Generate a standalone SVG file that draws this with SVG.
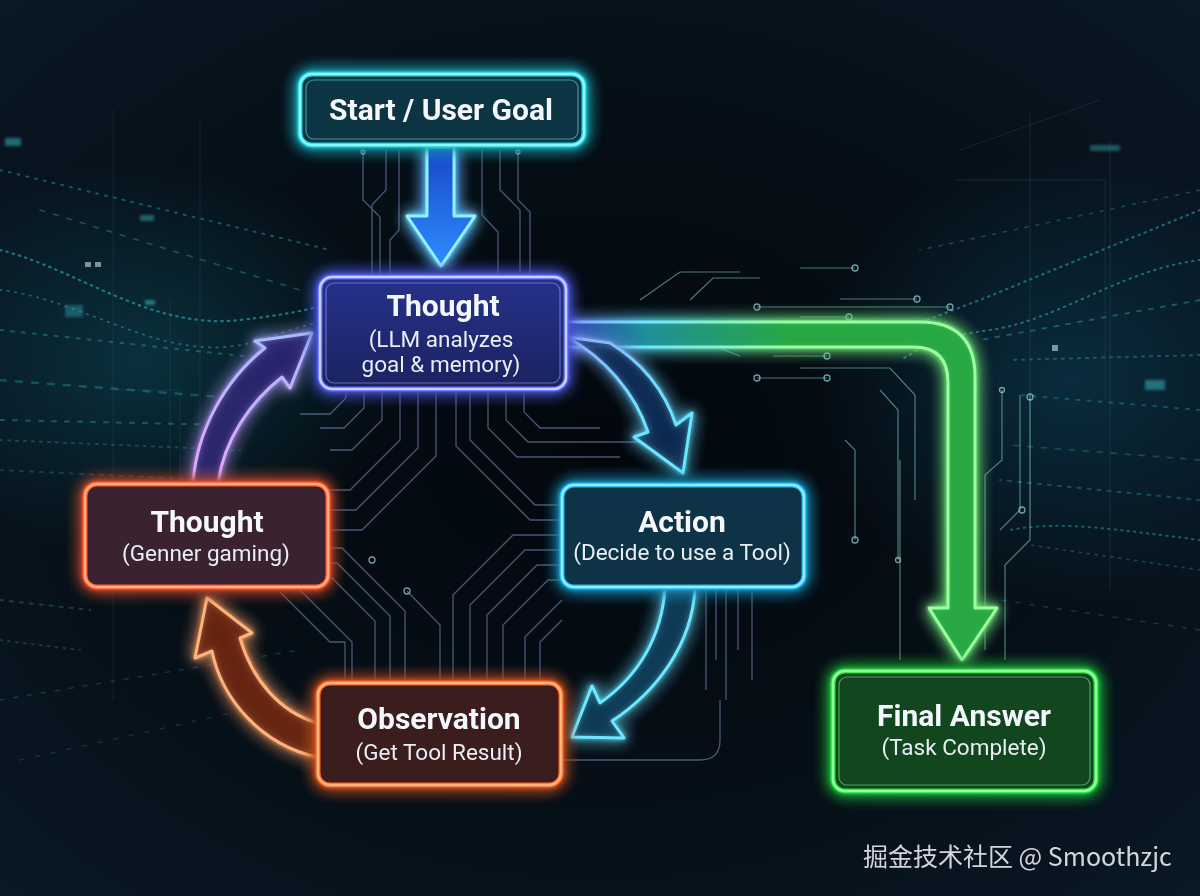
<svg xmlns="http://www.w3.org/2000/svg" width="1200" height="896" viewBox="0 0 1200 896">
<defs>
  <radialGradient id="bgGrad" cx="50%" cy="50%" r="75%">
    <stop offset="0" stop-color="#03070d"/>
    <stop offset="0.6" stop-color="#061019"/>
    <stop offset="1" stop-color="#0a1a28"/>
  </radialGradient>
  <radialGradient id="hazeL" cx="0.5" cy="0.5" r="0.5">
    <stop offset="0" stop-color="#0f5a6a" stop-opacity="0.45"/>
    <stop offset="1" stop-color="#0f5a6a" stop-opacity="0"/>
  </radialGradient>
  <radialGradient id="hazeR" cx="0.5" cy="0.5" r="0.5">
    <stop offset="0" stop-color="#0f4f6a" stop-opacity="0.45"/>
    <stop offset="1" stop-color="#0f4f6a" stop-opacity="0"/>
  </radialGradient>
  <linearGradient id="downFill" x1="0" y1="147" x2="0" y2="266" gradientUnits="userSpaceOnUse">
    <stop offset="0" stop-color="#1846c8"/>
    <stop offset="1" stop-color="#2f8cff"/>
  </linearGradient>
  <linearGradient id="greenStroke" x1="566" y1="0" x2="790" y2="0" gradientUnits="userSpaceOnUse">
    <stop offset="0" stop-color="#8a9cff"/>
    <stop offset="0.35" stop-color="#6fe6ff"/>
    <stop offset="1" stop-color="#9aff9c"/>
  </linearGradient>
  <linearGradient id="greenFill" x1="566" y1="0" x2="790" y2="0" gradientUnits="userSpaceOnUse">
    <stop offset="0" stop-color="#2a3fb0"/>
    <stop offset="0.35" stop-color="#1f8f9a"/>
    <stop offset="1" stop-color="#27a844"/>
  </linearGradient>
  <linearGradient id="aStroke" x1="567" y1="337" x2="683" y2="473" gradientUnits="userSpaceOnUse">
    <stop offset="0" stop-color="#8fa8ff"/>
    <stop offset="0.5" stop-color="#72dcff"/>
    <stop offset="1" stop-color="#66ecff"/>
  </linearGradient>
  <linearGradient id="dStroke" x1="0" y1="483" x2="0" y2="333" gradientUnits="userSpaceOnUse">
    <stop offset="0" stop-color="#e4a8ff"/>
    <stop offset="1" stop-color="#aab8ff"/>
  </linearGradient>
  <linearGradient id="thoughtFill" x1="0" y1="276" x2="0" y2="390" gradientUnits="userSpaceOnUse">
    <stop offset="0" stop-color="#26328a"/>
    <stop offset="1" stop-color="#1a2260"/>
  </linearGradient>
  <filter id="glow" x="-30%" y="-30%" width="160%" height="160%" color-interpolation-filters="sRGB">
    <feGaussianBlur in="SourceGraphic" stdDeviation="8" result="b1"/>
    <feGaussianBlur in="SourceGraphic" stdDeviation="2.5" result="b2"/>
    <feMerge><feMergeNode in="b1"/><feMergeNode in="b1"/><feMergeNode in="b2"/><feMergeNode in="SourceGraphic"/></feMerge>
  </filter>
  <filter id="soft" x="-30%" y="-30%" width="160%" height="160%">
    <feGaussianBlur stdDeviation="1.5"/>
  </filter>
  <style>
    .title{font-family:Roboto,"Liberation Sans",sans-serif;font-weight:700;font-size:30px;fill:#f4f7fb;text-anchor:middle}
    .sub{font-family:Roboto,"Liberation Sans",sans-serif;font-weight:400;font-size:22.5px;fill:#e8eef4;text-anchor:middle}
    .trace{fill:none;stroke:#8aa4d8;stroke-width:1.3;opacity:0.5}
    .traceG{fill:none;stroke:#8ad6c0;stroke-width:1.2;opacity:0.55}
    .dot{fill:none;stroke:#9fd8e0;stroke-width:1.3;opacity:0.7}
    .stream{fill:none;stroke:#35c2d0;stroke-linecap:round}
    .inner{fill:none;stroke-width:1.2;opacity:0.55}
  </style>
</defs>

<g id="background">
  <rect x="0" y="0" width="1200" height="896" fill="url(#bgGrad)"/>
  <ellipse cx="140" cy="360" rx="260" ry="200" fill="url(#hazeL)"/>
  <ellipse cx="1070" cy="380" rx="260" ry="230" fill="url(#hazeR)"/>
  <g opacity="0.75">
    <path class="stream" d="M0,170 L330,250" stroke-width="2" stroke-dasharray="2 7" opacity="0.5"/>
    <path class="stream" d="M40,210 L300,290" stroke-width="1.6" stroke-dasharray="5 9" opacity="0.45"/>
    <path class="stream" d="M0,250 C80,270 150,330 240,320 S320,300 360,305" stroke-width="2.2" stroke-dasharray="1.5 5" opacity="0.7"/>
    <path class="stream" d="M0,290 C90,300 170,370 260,340 S330,320 380,330" stroke-width="1.8" stroke-dasharray="1.5 6" opacity="0.55"/>
    <path class="stream" d="M0,330 L280,360" stroke-width="2" stroke-dasharray="3 8" opacity="0.45"/>
    <path class="stream" d="M0,380 L260,400" stroke-width="2.5" stroke-dasharray="6 10" opacity="0.4"/>
    <path class="stream" d="M0,420 L230,425" stroke-width="2" stroke-dasharray="4 9" opacity="0.45"/>
    <path class="stream" d="M0,440 L240,450" stroke-width="2" stroke-dasharray="2 6" opacity="0.35"/>
    <path class="stream" d="M0,470 L210,480" stroke-width="2" stroke-dasharray="3 7" opacity="0.3"/>
    <path class="stream" d="M0,600 L90,610" stroke-width="2" stroke-dasharray="3 7" opacity="0.35"/>
    <path class="stream" d="M0,640 L80,650" stroke-width="2" stroke-dasharray="2 6" opacity="0.3"/>
    <path class="stream" d="M0,700 L300,650" stroke-width="1.5" stroke-dasharray="4 10" opacity="0.3"/>
    <path class="stream" d="M20,760 L290,700" stroke-width="1.5" stroke-dasharray="4 12" opacity="0.25"/>
    <rect x="5" y="138" width="16" height="8" fill="#4fe0e8" opacity="0.55" filter="url(#soft)"/>
    <rect x="140" y="215" width="14" height="6" fill="#4fe0e8" opacity="0.5" filter="url(#soft)"/>
    <rect x="145" y="300" width="10" height="5" fill="#4fe0e8" opacity="0.6" filter="url(#soft)"/>
    <rect x="65" y="305" width="18" height="12" fill="#3ab8c8" opacity="0.5" filter="url(#soft)"/>
    <rect x="85" y="262" width="6" height="5" fill="#dff" opacity="0.7"/>
    <rect x="95" y="262" width="6" height="5" fill="#dff" opacity="0.7"/>
    <path d="M113,110 V700 M200,120 V620 M170,300 V560 M112,390 H180 V560" stroke="#5aa0b0" stroke-width="1" fill="none" opacity="0.18"/>
  </g>
  <g opacity="0.75">
    <path class="stream" d="M1200,190 L920,250" stroke-width="1.6" stroke-dasharray="3 8" opacity="0.4"/>
    <path class="stream" d="M1200,210 L980,300 L900,330" stroke-width="2.2" stroke-dasharray="1.5 5" opacity="0.6"/>
    <path class="stream" d="M1200,260 C1120,270 1060,320 990,330 S930,345 900,360" stroke-width="2" stroke-dasharray="1.5 5" opacity="0.65"/>
    <path class="stream" d="M1200,300 L980,340" stroke-width="1.8" stroke-dasharray="4 8" opacity="0.5"/>
    <path class="stream" d="M1200,355 L1010,360" stroke-width="2" stroke-dasharray="2 6" opacity="0.45"/>
    <path class="stream" d="M1200,410 L1020,395" stroke-width="2" stroke-dasharray="3 8" opacity="0.4"/>
    <path class="stream" d="M1200,460 L1010,445" stroke-width="1.8" stroke-dasharray="5 9" opacity="0.35"/>
    <path class="stream" d="M1200,500 L1000,480" stroke-width="2" stroke-dasharray="3 7" opacity="0.4"/>
    <path class="stream" d="M1200,540 C1120,530 1060,520 1010,530" stroke-width="2" stroke-dasharray="1.5 5" opacity="0.55"/>
    <path class="stream" d="M1200,570 L1030,545" stroke-width="1.6" stroke-dasharray="2 6" opacity="0.4"/>
    <path class="stream" d="M1200,630 L1000,600" stroke-width="1.6" stroke-dasharray="4 10" opacity="0.3"/>
    <rect x="1145" y="380" width="20" height="10" fill="#4fe0e8" opacity="0.55" filter="url(#soft)"/>
    <rect x="1090" y="145" width="30" height="6" fill="#4fe0e8" opacity="0.45" filter="url(#soft)"/>
    <rect x="1052" y="345" width="6" height="6" fill="#dff" opacity="0.7"/>
    <path d="M1030,110 V520 M1110,140 V590 M955,180 H1105 V400 M960,150 L1100,100" stroke="#5aa0b0" stroke-width="1" fill="none" opacity="0.2"/>
  </g>
</g>

<g id="circuits">
  <path class="trace" d="M363,150 V200 L380,217 V276 M386,150 V190 L372,205 V276 M399,150 V230 L390,240 V276"/>
  <path class="trace" d="M482,150 V215 L498,232 V276 M500,150 V190 L520,210 V276 M518,150 V200 L530,212 V276"/>
  <circle class="dot" cx="363" cy="152" r="2"/><circle class="dot" cx="518" cy="152" r="2"/>
  <path class="trace" d="M400,392 V440 L350,490 H328 M418,392 V448 L356,510 H328 M436,392 V456 L362,530 H328"/>
  <path class="trace" d="M382,392 V420 L352,450 H330 M364,392 V408 L344,428 H320 M346,392 V398 L330,414 H300"/>
  <path class="trace" d="M470,392 V440 L535,505 H562 M456,392 V446 L530,520 H562 M488,392 V428 L517,457 H620 M506,392 V420 L528,442 H640 M524,392 V412 L540,428 H600"/>
  <path class="trace" d="M328,548 H342 L405,611 V682 M328,563 H337 L390,616 V682 M328,578 H332 L375,621 V682 M300,590 L352,642 V682 M280,592 L330,642 H345 V682"/>
  <circle class="dot" cx="372" cy="560" r="3"/><circle class="dot" cx="407" cy="591" r="3"/>
  <path class="trace" d="M407,591 L440,625 V682"/>
  <path class="trace" d="M562,535 H513 L453,595 V682 M562,550 H525 L470,605 V682 M562,565 H537 L487,615 V682 M562,580 H548 L503,625 V682"/>
  <path class="trace" d="M562,600 L525,637 V682 M562,620 L540,642 V682"/>
  <path class="trace" d="M706,590 V690 M716,590 V660 M726,590 V700 M738,590 V650 M752,590 V680" opacity="0.45"/>
  <path class="trace" d="M720,700 V740 Q720,760 700,760 H560" opacity="0.4"/>
  <path class="traceG" d="M757,307 H950 M800,268 H855 M840,299 H917 M800,317 H849"/>
  <circle class="dot" cx="757" cy="307" r="3"/><circle class="dot" cx="950" cy="307" r="3"/>
  <circle class="dot" cx="855" cy="268" r="3"/><circle class="dot" cx="917" cy="299" r="3"/><circle class="dot" cx="849" cy="317" r="3"/>
  <path class="traceG" d="M690,300 L713,278 H760 M640,300 L680,272 H740"/>
  <path class="traceG" d="M773,356 H827 M757,378 H827 M722,349 L740,356 M800,368 H890 L915,395 V500 M880,390 L898,410 V560 M845,440 L855,450 V540 M900,460 V660"/>
  <circle class="dot" cx="827" cy="356" r="3"/><circle class="dot" cx="827" cy="378" r="3"/><circle class="dot" cx="757" cy="378" r="3"/>
  <circle class="dot" cx="855" cy="540" r="3"/><circle class="dot" cx="898" cy="560" r="2.5"/>
  <path class="traceG" d="M1002,390 V460 L985,475 V650 M1030,395 V540 L1005,565 V660 M1020,395 V510 L1000,530"/>
  <circle class="dot" cx="1030" cy="397" r="3"/><circle class="dot" cx="1002" cy="390" r="2.5"/><circle class="dot" cx="1022" cy="510" r="3"/>
</g>

<g id="connectors">
  <path d="M427,147 H454 V216 H475 L441,266 L407,216 H427 Z" fill="url(#downFill)" stroke="#8ff4ff" stroke-width="3" stroke-linejoin="round" filter="url(#glow)"/>
  <path d="M566,322 H920 Q975,322 975,377 V608 H997 L962,660 L929,608 H948 V382 Q948,347 913,347 H566 Z" fill="url(#greenFill)" fill-opacity="0.8" stroke="url(#greenStroke)" stroke-width="3" stroke-linejoin="round" filter="url(#glow)"/>
  <path d="M567,337 C605,358 635,393 648,432 L634,437 L683,473 L692,413 L676,425 C664,389 641,362 610,343 Z" fill="#0d2a55" fill-opacity="0.45" stroke="url(#aStroke)" stroke-width="3" stroke-linejoin="round" filter="url(#glow)"/>
  <path d="M665,588 C662,635 640,675 600,703 L592,686 L572,737 L624,738 L612,721 C656,692 692,645 695,588 Z" fill="#0b3a55" fill-opacity="0.5" stroke="#6fe8ff" stroke-width="3" stroke-linejoin="round" filter="url(#glow)"/>
  <path d="M317,723 C280,712 252,680 240,638 L252,633 L207,598 L195,658 L212,651 C222,700 262,745 317,757 Z" fill="#6a2410" fill-opacity="0.55" stroke="#ffb27a" stroke-width="3" stroke-linejoin="round" filter="url(#glow)"/>
  <path d="M193,483 C197,430 225,380 265,348 L255,341 L312,333 L290,388 L282,377 C250,402 224,440 218,483 Z" fill="#2a2470" fill-opacity="0.5" stroke="url(#dStroke)" stroke-width="3" stroke-linejoin="round" filter="url(#glow)"/>
</g>

<g id="node-start">
  <rect x="300" y="74" width="284" height="71" rx="12" fill="#0c3442" stroke="#1fd4e4" stroke-width="5" filter="url(#glow)"/>
  <rect x="300" y="74" width="284" height="71" rx="12" fill="none" stroke="#8ff7f7" stroke-width="2.5"/>
  <rect x="306" y="80" width="272" height="59" rx="8" class="inner" stroke="#6fe8f0"/>
  <text class="title" x="441" y="120">Start / User Goal</text>
</g>

<g id="node-thought">
  <rect x="320" y="277" width="246" height="112" rx="12" fill="url(#thoughtFill)" stroke="#5a68ff" stroke-width="5" filter="url(#glow)"/>
  <rect x="320" y="277" width="246" height="112" rx="12" fill="none" stroke="#cdd0ff" stroke-width="2.5"/>
  <rect x="326" y="283" width="234" height="100" rx="8" class="inner" stroke="#9aa4ff"/>
  <text class="title" x="443" y="316">Thought</text>
  <text class="sub" x="441" y="347">(LLM analyzes</text>
  <text class="sub" x="441" y="372">goal &amp; memory)</text>
</g>

<g id="node-action">
  <rect x="562" y="485" width="242" height="102" rx="12" fill="#0e3346" stroke="#1cb8f0" stroke-width="5" filter="url(#glow)"/>
  <rect x="562" y="485" width="242" height="102" rx="12" fill="none" stroke="#8eeeff" stroke-width="2.5"/>
  <text class="title" x="682" y="532">Action</text>
  <text class="sub" x="682" y="560">(Decide to use a Tool)</text>
</g>

<g id="node-observation">
  <rect x="318" y="683" width="243" height="102" rx="12" fill="#3a1d1c" stroke="#ff6420" stroke-width="5" filter="url(#glow)"/>
  <rect x="318" y="683" width="243" height="102" rx="12" fill="none" stroke="#ffb882" stroke-width="2.5"/>
  <text class="title" x="439" y="729">Observation</text>
  <text class="sub" x="439" y="760">(Get Tool Result)</text>
</g>

<g id="node-thought-left">
  <rect x="85" y="484" width="243" height="103" rx="12" fill="#3a2230" stroke="#ff5a28" stroke-width="5" filter="url(#glow)"/>
  <rect x="85" y="484" width="243" height="103" rx="12" fill="none" stroke="#ffac84" stroke-width="2.5"/>
  <text class="title" x="207" y="532">Thought</text>
  <text class="sub" x="206" y="561">(Genner gaming)</text>
</g>

<g id="node-final">
  <rect x="833" y="671" width="263" height="120" rx="12" fill="#12461f" stroke="#22e040" stroke-width="5" filter="url(#glow)"/>
  <rect x="833" y="671" width="263" height="120" rx="12" fill="none" stroke="#98ffa0" stroke-width="2.5"/>
  <rect x="839" y="677" width="251" height="108" rx="8" class="inner" stroke="#7cf088"/>
  <text class="title" x="964" y="726">Final Answer</text>
  <text class="sub" x="964" y="755">(Task Complete)</text>
</g>

<g id="watermark">
  <text x="863" y="866" font-family="'Noto Sans CJK SC','Noto Sans',sans-serif" font-size="25" fill="#e4e6ea" opacity="0.92">掘金技术社区 @ Smoothzjc</text>
</g>
</svg>
